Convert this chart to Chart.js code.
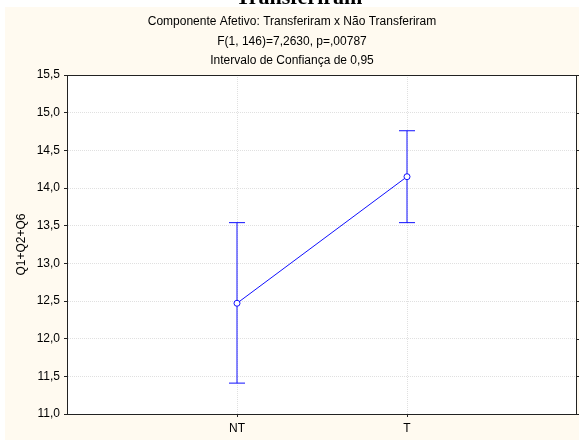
<!DOCTYPE html>
<html>
<head>
<meta charset="utf-8">
<script src="https://cdn.jsdelivr.net/npm/chart.js@4/dist/chart.umd.min.js"></script>
<style>
  html, body { margin: 0; padding: 0; background: #fff; }
  canvas { display: block; }
</style>
</head>
<body>
<canvas id="chart" width="579" height="440"></canvas>
<script>
// ===== data =====
const categories = ['NT', 'T'];
const means = [12.47, 14.15];
const ciLow = [11.41, 13.54];
const ciHigh = [13.54, 14.76];

const yTicks = [11.0, 11.5, 12.0, 12.5, 13.0, 13.5, 14.0, 14.5, 15.0, 15.5];

const clippedTitle = 'Transferiram';
const titleLines = [
    'Componente Afetivo: Transferiram x Não Transferiram',
    'F(1, 146)=7,2630, p=,00787',
    'Intervalo de Confiança de 0,95'
];
const yAxisTitle = 'Q1+Q2+Q6';

const BLUE = '#1010ff';
const CREAM = '#fffaf0';
const FONT = '"Liberation Sans", Arial, sans-serif';

// background panel + clipped heading + text lines
const backgroundPlugin = {
    id: 'panel',
    beforeDraw(chart) {
        const { ctx, width, height, chartArea: a } = chart;
        ctx.save();
        ctx.fillStyle = '#fff';
        ctx.fillRect(0, 0, width, height);

        ctx.fillStyle = '#000';
        ctx.font = 'bold 22px "Liberation Serif", "Times New Roman", serif';
        ctx.textAlign = 'center';
        ctx.textBaseline = 'alphabetic';
        ctx.fillText(clippedTitle, 299, 4);

        ctx.fillStyle = CREAM;
        ctx.fillRect(5, 7, width - 5, height - 7);

        ctx.fillStyle = '#fff';
        ctx.fillRect(a.left, a.top, a.right - a.left, a.bottom - a.top);

        ctx.fillStyle = '#000';
        ctx.font = '12px ' + FONT;
        ctx.textBaseline = 'middle';
        titleLines.forEach((t, i) => ctx.fillText(t, 292, 22 + i * 19.5));
        ctx.restore();
    }
};

// box around the plot area, with small ticks on the right side
const boxPlugin = {
    id: 'box',
    afterDraw(chart) {
        const { ctx, chartArea: a } = chart;
        const y = chart.scales.y;
        ctx.save();
        ctx.strokeStyle = '#222';
        ctx.lineWidth = 1;
        ctx.setLineDash([]);
        ctx.strokeRect(Math.round(a.left) + 0.5, Math.round(a.top) + 0.5,
            Math.round(a.right - a.left) - 1, Math.round(a.bottom - a.top));
        ctx.beginPath();
        yTicks.forEach(v => {
            const py = Math.round(y.getPixelForValue(v)) + 0.5;
            ctx.moveTo(a.right - 1, py); ctx.lineTo(a.right + 2, py);
        });
        ctx.stroke();
        ctx.restore();
    }
};

// mean line first so it is drawn on top; whiskers as extra datasets
const datasets = [{
    data: means.map((m, i) => ({ x: i, y: m })),
    borderColor: BLUE,
    borderWidth: 1,
    pointRadius: 3,
    pointBackgroundColor: '#fff',
    pointBorderColor: BLUE,
    pointBorderWidth: 1,
    tension: 0
}];
categories.forEach((c, i) => {
    datasets.push({
        data: [{ x: i, y: ciLow[i] }, { x: i, y: ciHigh[i] }],
        borderColor: BLUE,
        borderWidth: 1,
        pointStyle: 'line',
        pointRadius: 8,
        pointBorderColor: BLUE,
        pointBorderWidth: 1,
        clip: false
    });
});

new Chart(document.getElementById('chart'), {
    type: 'line',
    data: { datasets },
    options: {
        responsive: false,
        animation: false,
        devicePixelRatio: 1,
        layout: { autoPadding: false, padding: { top: 75, right: 2, left: 0, bottom: 0 } },
        plugins: {
            legend: { display: false },
            tooltip: { enabled: false },
            title: { display: false }
        },
        scales: {
            x: {
                type: 'linear',
                min: -1,
                max: 2,
                afterBuildTicks: axis => { axis.ticks = categories.map((c, i) => ({ value: i })); },
                afterFit: axis => { axis.height = 26; },
                ticks: {
                    color: '#000',
                    font: { family: FONT, size: 12 },
                    padding: 4,
                    callback: v => categories[v]
                },
                grid: { color: '#e0e0e0', tickColor: '#222', tickLength: 3 },
                border: { display: true, color: '#222', width: 1, dash: [1, 1] }
            },
            y: {
                min: 11,
                max: 15.5,
                afterBuildTicks: axis => { axis.ticks = yTicks.map(v => ({ value: v })); },
                afterFit: axis => { axis.width = 67; },
                ticks: {
                    color: '#000',
                    font: { family: FONT, size: 12 },
                    padding: 4,
                    callback: v => v.toFixed(1).replace('.', ',')
                },
                title: {
                    display: true,
                    text: yAxisTitle,
                    color: '#000',
                    font: { family: FONT, size: 12 },
                    padding: { top: 14, bottom: 0 }
                },
                grid: { color: '#e0e0e0', tickColor: '#222', tickLength: 3 },
                border: { display: true, color: '#222', width: 1, dash: [1, 1] }
            }
        }
    },
    plugins: [backgroundPlugin, boxPlugin]
});
</script>
</body>
</html>
